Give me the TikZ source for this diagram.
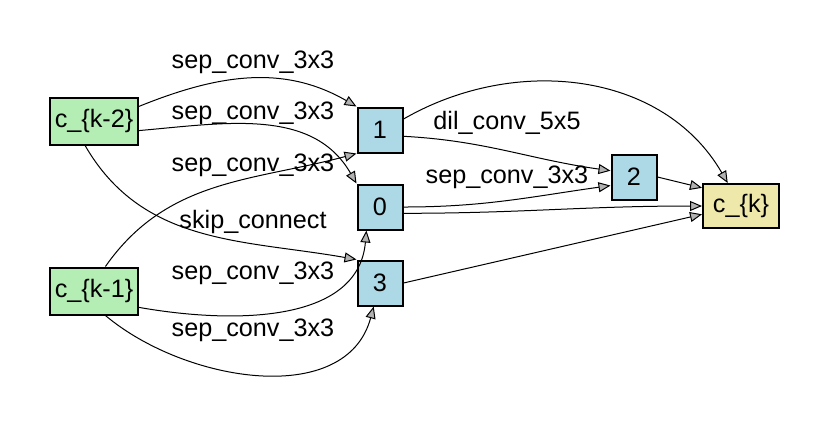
\documentclass[tikz,border=0pt]{standalone}
\usepackage{fontspec}
\setmainfont{Liberation Sans}
\usetikzlibrary{arrows.meta}
\definecolor{cellin}{HTML}{B4EEB4}
\definecolor{cellnode}{HTML}{ADD8E6}
\definecolor{cellout}{HTML}{EEE8AA}
\tikzset{
  inbox/.style={draw, line width=1pt, fill=cellin, minimum width=44pt, minimum height=23.5pt, inner sep=0pt},
  opbox/.style={draw, line width=1pt, fill=cellnode, minimum size=22.5pt, inner sep=0pt},
  outbox/.style={draw, line width=1pt, fill=cellout, minimum width=38pt, minimum height=22pt, inner sep=0pt},
  oplabel/.style={inner sep=0pt},
  opedge/.style={-{Triangle[length=6pt,width=5pt,fill=gray!60]}, line width=0.5pt}
}
\begin{document}
\begin{tikzpicture}[x=0.5pt, y=-0.5pt, font=\fontsize{12.6}{14}\selectfont]
  \useasboundingbox (0,0) rectangle (830,420);
  % input cells
  \node[inbox] (ck2) at (94,121) {c\_\{k-2\}};
  \node[inbox] (ck1) at (94,291) {c\_\{k-1\}};
  % intermediate nodes
  \node[opbox] (n1) at (380,130) {1};
  \node[opbox] (n0) at (380,207) {0};
  \node[opbox] (n3) at (380,283) {3};
  \node[opbox] (n2) at (634,177) {2};
  % output cell
  \node[outbox] (ck) at (741,206) {c\_\{k\}};
  % labels
  \node[oplabel] (l1) at (253,62) {sep\_conv\_3x3};
  \node[oplabel] (l2) at (253,113) {sep\_conv\_3x3};
  \node[oplabel] (l3) at (253,165) {sep\_conv\_3x3};
  \node[oplabel] (l4) at (253,222) {skip\_connect};
  \node[oplabel] (l5) at (253,273) {sep\_conv\_3x3};
  \node[oplabel] (l6) at (253,330) {sep\_conv\_3x3};
  \node[oplabel] (l7) at (507,123) {dil\_conv\_5x5};
  \node[oplabel] (l8) at (507,177) {sep\_conv\_3x3};
  % edges
  \draw[opedge] (ck2.18) to[out=22, in=150] (n1.north west);
  \draw[opedge] (ck2.-12) to[out=5, in=120] (n0.north west);
  \draw[opedge] (ck1.65) to[out=55, in=195] (n1.south west);
  \draw[opedge] (ck2.-110) to[out=-60, in=170] (n3.north west);
  \draw[opedge] (ck1.-20) to[out=-10, in=-95] (n0.-120);
  \draw[opedge] (ck1.-65) to[out=-40, in=-105] (n3.-105);
  \draw[opedge] (n1.-15) to[out=-3, in=172] (n2.165);
  \draw[opedge] (n0.east) to[out=0, in=188] (n2.-160);
  \draw[opedge] (n1.25) to[out=30, in=120] (ck.120);
  \draw[opedge] (n2.east) -- (ck.155);
  \draw[opedge] (n0.-15) to[out=0, in=180] (ck.west);
  \draw[opedge] (n3.east) -- (ck.-168);
\end{tikzpicture}
\end{document}
